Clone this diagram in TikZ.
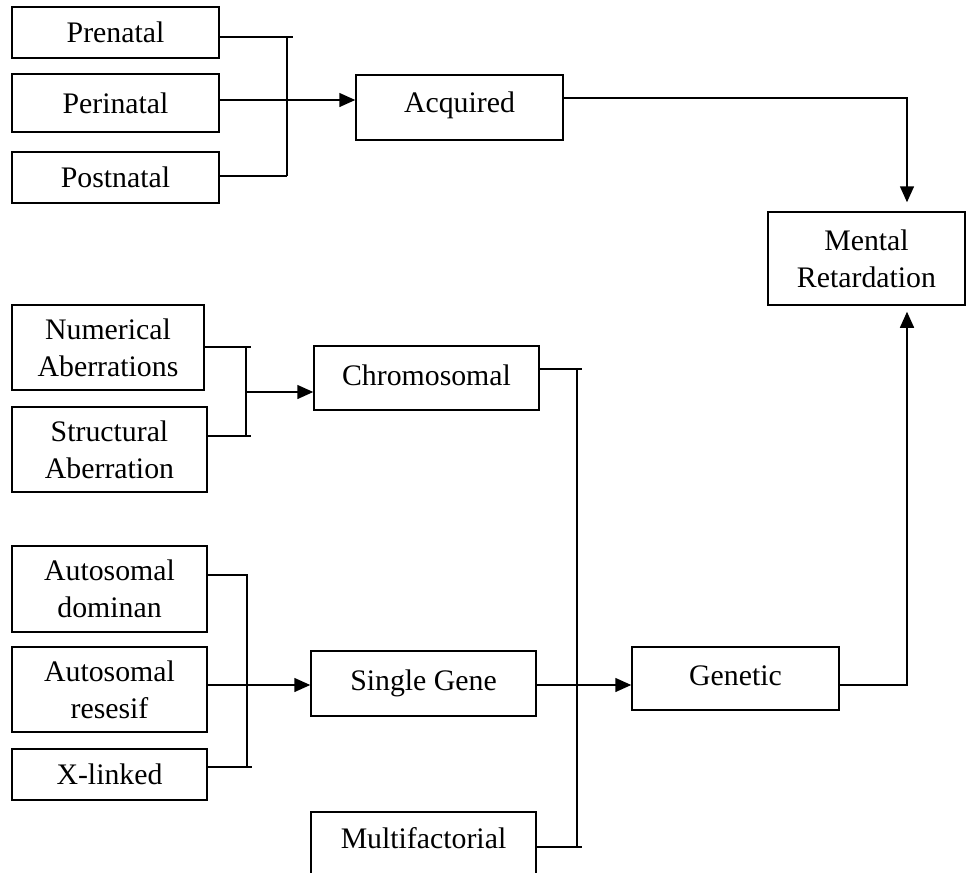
\documentclass[tikz,border=0pt]{standalone}
\usepackage{fontspec}
\setmainfont{Liberation Serif}
\usetikzlibrary{arrows.meta,calc}
\begin{document}
\begin{tikzpicture}[x=1pt,y=-1pt,
  box/.style={draw, line width=1.5pt, inner sep=0pt, align=center,
    font=\fontsize{29.8}{37}\selectfont},
  link/.style={line width=1.5pt},
  arr/.style={link, -{Triangle[length=16pt,width=14pt]}}]
\clip (0,0) rectangle (967,873);
\fill[white] (0,0) rectangle (967,873);

% causes of the acquired branch
\node[box, minimum width=207pt, minimum height=51pt] (pre)  at (115.5,32.5)  {Prenatal};
\node[box, minimum width=207pt, minimum height=58pt] (peri) at (115.5,103)   {Perinatal};
\node[box, minimum width=207pt, minimum height=51pt] (post) at (115.5,177.5) {Postnatal};
\node[box, minimum width=207pt, minimum height=65pt] (acq)  at (459.5,107.5) {\raisebox{10pt}{Acquired}};
\node[box, minimum width=197pt, minimum height=93pt] (mr)   at (866.5,258.5) {Mental\\Retardation};

% chromosomal causes
\node[box, minimum width=192pt, minimum height=85pt] (num) at (108,347.5)   {Numerical\\Aberrations};
\node[box, minimum width=195pt, minimum height=85pt] (str) at (109.5,449.5) {Structural\\Aberration};
\node[box, minimum width=225pt, minimum height=64pt] (chr) at (426.5,378)   {\raisebox{5pt}{Chromosomal}};

% single gene causes
\node[box, minimum width=195pt, minimum height=86pt] (ad) at (109.5,589)   {Autosomal\\dominan};
\node[box, minimum width=195pt, minimum height=85pt] (ar) at (109.5,689.5) {Autosomal\\resesif};
\node[box, minimum width=195pt, minimum height=51pt] (xl) at (109.5,774.5) {X-linked};
\node[box, minimum width=225pt, minimum height=65pt] (sg) at (423.5,683.5) {Single Gene};
\node[box, minimum width=225pt, minimum height=70pt] (mf) at (423.5,847)   {\raisebox{18pt}{Multifactorial}};
\node[box, minimum width=207pt, minimum height=63pt] (gen) at (735.5,678.5) {\raisebox{6pt}{Genetic}};

% bracket: prenatal / perinatal / postnatal -> acquired
\coordinate (t1) at (293,37);
\coordinate (c1) at (287,37);
\coordinate (m1) at (293,100);
\coordinate (j1) at (287,100);
\coordinate (b1) at (287,176);
\draw[link] (pre.east |- t1) -- (t1);
\draw[link] (c1) -- (b1);
\draw[link] (peri.east |- m1) -- (m1);
\draw[link] (post.east |- b1) -- (b1);
\draw[arr] (j1) -- (j1 -| acq.west);

% acquired -> mental retardation
\coordinate (k1) at (907,98);
\draw[arr, shorten >=9pt] (acq.east |- k1) -- (k1) -- (k1 |- mr.north);

% bracket: numerical / structural -> chromosomal
\coordinate (t2) at (251,347);
\coordinate (c2) at (246,347);
\coordinate (b2) at (251,436);
\coordinate (d2) at (246,436);
\coordinate (j2) at (246,392);
\draw[link] (num.east |- t2) -- (t2);
\draw[link] (c2) -- (d2);
\draw[link] (str.east |- b2) -- (b2);
\draw[arr] (j2) -- (j2 -| chr.west);

% bracket: autosomal dominan / resesif / x-linked -> single gene
\coordinate (c4) at (247,575);
\coordinate (b4) at (252,767);
\coordinate (d4) at (247,767);
\coordinate (j4) at (247,685);
\draw[link] (ad.east |- c4) -- (c4) -- (d4);
\draw[link] (xl.east |- b4) -- (b4);
\draw[arr] (ar.east |- j4) -- (j4 -| sg.west);

% bracket: chromosomal / single gene / multifactorial -> genetic
\coordinate (t3) at (582,369);
\coordinate (c3) at (577,369);
\coordinate (b3) at (582,847);
\coordinate (d3) at (577,847);
\coordinate (j3) at (577,685);
\draw[link] (chr.east |- t3) -- (t3);
\draw[link] (c3) -- (d3);
\draw[link] (mf.east |- b3) -- (b3);
\draw[link] (sg.east |- j3) -- (j3);
\draw[arr] (j3) -- (j3 -| gen.west);

% genetic -> mental retardation
\coordinate (k2) at (907,685);
\draw[arr, shorten >=6pt] (gen.east |- k2) -- (k2) -- (k2 |- mr.south);
\end{tikzpicture}
\end{document}
